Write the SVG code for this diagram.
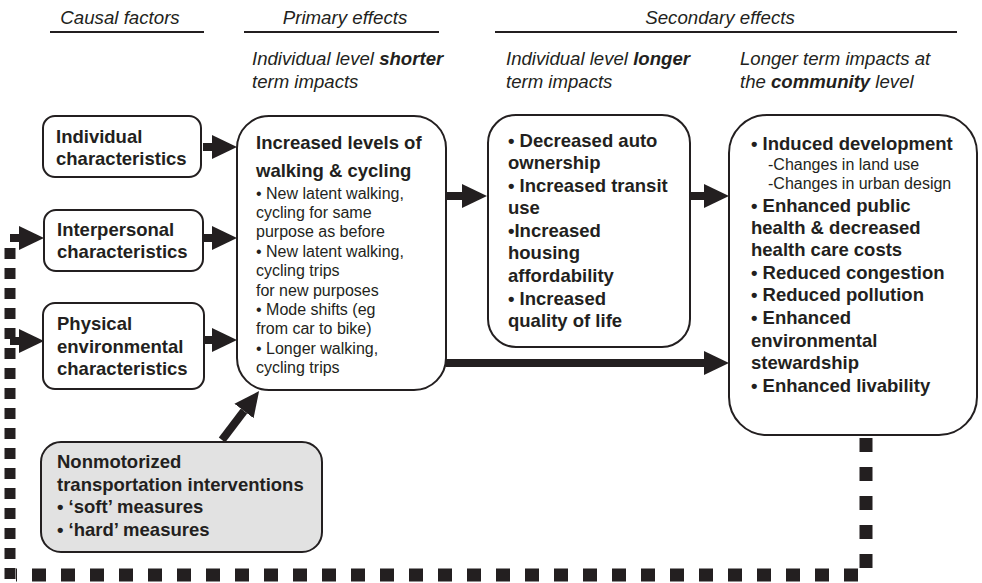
<svg xmlns="http://www.w3.org/2000/svg" width="982" height="583" viewBox="0 0 982 583">
<style>
.hdr{font-family:"Liberation Sans",Arial,sans-serif;font-size:18.7px;font-style:italic;fill:#231f20}
.sub{font-family:"Liberation Sans",Arial,sans-serif;font-size:18.6px;font-style:italic;fill:#231f20}
.b{font-family:"Liberation Sans",Arial,sans-serif;font-size:18.5px;font-weight:bold;fill:#231f20}
.r{font-family:"Liberation Sans",Arial,sans-serif;font-size:16px;fill:#231f20}
.box{fill:#fff;stroke:#231f20;stroke-width:2}
.gbox{fill:#e2e2e2;stroke:#231f20;stroke-width:2}
.rule{stroke:#231f20;stroke-width:2}
.arr{stroke:#231f20;stroke-width:8;fill:none;marker-end:url(#head)}
.dot{stroke:#231f20;fill:none}
</style>
<defs>
<marker id="head" markerUnits="userSpaceOnUse" markerWidth="26" markerHeight="26" refX="0" refY="12" orient="auto" viewBox="0 0 26 24">
<path d="M0,0 L25,12 L0,24 Z" fill="#231f20"/>
</marker>
</defs>
<rect width="982" height="583" fill="#fff"/>
<g id="headers">
<text class="hdr" x="120" y="24" text-anchor="middle">Causal factors</text>
<line class="rule" x1="50" y1="32" x2="204" y2="32"/>
<text class="hdr" x="345" y="24" text-anchor="middle">Primary effects</text>
<line class="rule" x1="244" y1="32" x2="439" y2="32"/>
<text class="hdr" x="720" y="24" text-anchor="middle">Secondary effects</text>
<line class="rule" x1="495" y1="32" x2="957" y2="32"/>
<text class="sub" x="252" y="65">Individual level <tspan font-weight="bold">shorter</tspan></text>
<text class="sub" x="252" y="88">term impacts</text>
<text class="sub" x="506" y="65">Individual level <tspan font-weight="bold">longer</tspan></text>
<text class="sub" x="506" y="88">term impacts</text>
<text class="sub" x="740" y="65">Longer term impacts at</text>
<text class="sub" x="740" y="88">the <tspan font-weight="bold">community</tspan> level</text>
</g>
<g id="connectors">
<path class="dot" stroke-width="13" stroke-dasharray="14 15" d="M866,438 V575 H16"/>
<path class="dot" stroke-width="11" stroke-dasharray="11 9" d="M10,579 V246"/>
<line class="arr" x1="10" y1="238" x2="19" y2="238" stroke-width="10"/>
<line class="arr" x1="10" y1="341" x2="19" y2="341" stroke-width="10"/>
<line class="arr" x1="203" y1="147" x2="212" y2="147"/>
<line class="arr" x1="204" y1="238" x2="212" y2="238"/>
<line class="arr" x1="205" y1="340" x2="212" y2="340"/>
<line class="arr" x1="447" y1="196" x2="462" y2="196"/>
<line class="arr" x1="690" y1="196" x2="704" y2="196"/>
<line class="arr" x1="446" y1="363" x2="704" y2="363" stroke-width="9"/>
<line class="arr" x1="222" y1="440" x2="244" y2="411" stroke-width="9"/>
</g>
<g id="individual">
<rect class="box" x="43" y="116" width="158" height="61" rx="12"/>
<text class="b" x="56" y="143">Individual</text>
<text class="b" x="56" y="165">characteristics</text>
</g>
<g id="interpersonal">
<rect class="box" x="44" y="210" width="159" height="61" rx="12"/>
<text class="b" x="57" y="236">Interpersonal</text>
<text class="b" x="57" y="258">characteristics</text>
</g>
<g id="physical">
<rect class="box" x="43" y="303" width="161" height="86" rx="12"/>
<text class="b" x="57" y="330">Physical</text>
<text class="b" x="57" y="353">environmental</text>
<text class="b" x="57" y="375">characteristics</text>
</g>
<g id="primary">
<rect class="box" x="237" y="116" width="209" height="274" rx="32"/>
<text class="b" x="256" y="149" font-size="19">Increased levels of</text>
<text class="b" x="256" y="177" font-size="19">walking &amp; cycling</text>
<text class="r" x="256" y="199">• New latent walking,</text>
<text class="r" x="256" y="218">cycling for same</text>
<text class="r" x="256" y="237">purpose as before</text>
<text class="r" x="256" y="257">• New latent walking,</text>
<text class="r" x="256" y="276">cycling trips</text>
<text class="r" x="256" y="296">for new purposes</text>
<text class="r" x="256" y="315">• Mode shifts (eg</text>
<text class="r" x="256" y="334">from car to bike)</text>
<text class="r" x="256" y="354">• Longer walking,</text>
<text class="r" x="256" y="373">cycling trips</text>
</g>
<g id="longer">
<rect class="box" x="488" y="115" width="202" height="232" rx="28"/>
<text class="b" x="508" y="147">• Decreased auto</text>
<text class="b" x="508" y="169">ownership</text>
<text class="b" x="508" y="192">• Increased transit</text>
<text class="b" x="508" y="214">use</text>
<text class="b" x="508" y="237">•Increased</text>
<text class="b" x="508" y="259">housing</text>
<text class="b" x="508" y="282">affordability</text>
<text class="b" x="508" y="305">• Increased</text>
<text class="b" x="508" y="327">quality of life</text>
</g>
<g id="community">
<rect class="box" x="729" y="115" width="248" height="320" rx="38"/>
<text class="b" x="751" y="150">• Induced development</text>
<text class="r" x="768" y="170">-Changes in land use</text>
<text class="r" x="768" y="189">-Changes in urban design</text>
<text class="b" x="751" y="212">• Enhanced public</text>
<text class="b" x="751" y="234">health &amp; decreased</text>
<text class="b" x="751" y="256">health care costs</text>
<text class="b" x="751" y="279">• Reduced congestion</text>
<text class="b" x="751" y="301">• Reduced pollution</text>
<text class="b" x="751" y="324">• Enhanced</text>
<text class="b" x="751" y="347">environmental</text>
<text class="b" x="751" y="369">stewardship</text>
<text class="b" x="751" y="392">• Enhanced livability</text>
</g>
<g id="interventions">
<rect class="gbox" x="41" y="442" width="281" height="110" rx="20"/>
<text class="b" x="57" y="468">Nonmotorized</text>
<text class="b" x="57" y="491">transportation interventions</text>
<text class="b" x="57" y="513">• ‘soft’ measures</text>
<text class="b" x="57" y="536">• ‘hard’ measures</text>
</g>
</svg>
